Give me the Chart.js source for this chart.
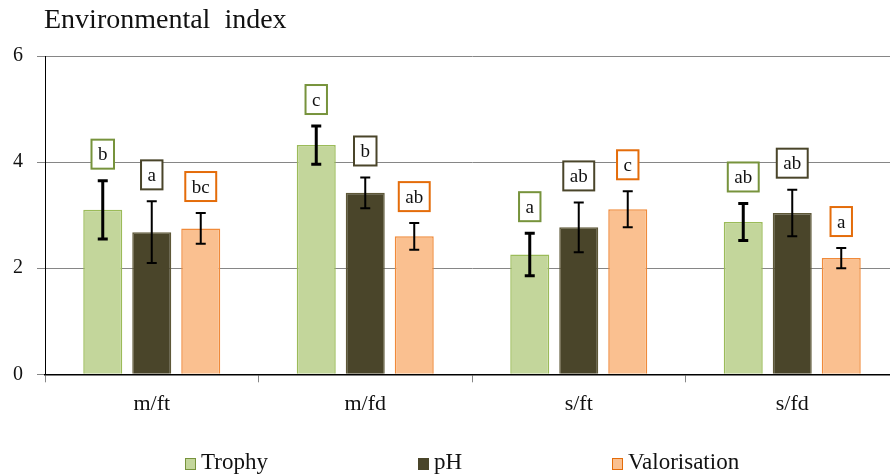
<!DOCTYPE html>
<html>
<head>
<meta charset="utf-8">
<script src="https://cdn.jsdelivr.net/npm/chart.js@4.4.1/dist/chart.umd.min.js"></script>
<style>
  html, body { margin: 0; padding: 0; background: #fff; overflow: hidden; }
  .wrap { position: relative; width: 890px; height: 475px; overflow: hidden; font-family: "Liberation Serif", "Times New Roman", serif; }
  .box { position: absolute; left: 0; top: 0; width: 900px; height: 475px; }
  .title { position: absolute; left: 44px; top: 3px; font-size: 28px; color: #111; white-space: pre; }
  .legend-item { position: absolute; top: 448px; font-size: 23px; line-height: 27px; color: #111; display: flex; align-items: center; white-space: nowrap; }
  .legend-item span.sw { display: inline-block; width: 9px; height: 10px; border: 1.5px solid; margin-right: 5px; margin-top: 4px; }
</style>
</head>
<body>
<div class="wrap">
  <div class="box"><canvas id="chart" width="900" height="475"></canvas></div>
  <div class="title">Environmental  index</div>
  <div id="legend"></div>
</div>
<script>
// values
const categories = ['m/ft', 'm/fd', 's/ft', 's/fd'];
const seriesNames = ['Trophy', 'pH', 'Valorisation'];

const trophy = [3.10, 4.32, 2.26, 2.87];
const trophyErr = [0.55, 0.36, 0.40, 0.35];
const trophyLetters = ['b', 'c', 'a', 'ab'];

const ph = [2.68, 3.42, 2.77, 3.04];
const phErr = [0.58, 0.29, 0.47, 0.44];
const phLetters = ['a', 'b', 'ab', 'ab'];

const valor = [2.75, 2.60, 3.11, 2.19];
const valorErr = [0.29, 0.25, 0.34, 0.19];
const valorLetters = ['bc', 'ab', 'c', 'a'];

const yTicks = [0, 2, 4, 6];

const fills = ['#C3D69B', '#4A452A', '#FAC090'];
const borders = ['#9BBB59', '#5E5838', '#F08A3A'];
const letterBorders = ['#77933C', '#4A452A', '#E46C0A'];
const errWidths = [3, 2, 2];
const legendLeft = [185, 418, 612];

const errors = [trophyErr, phErr, valorErr];
const letters = [trophyLetters, phLetters, valorLetters];

const serif = '"Liberation Serif", "Times New Roman", serif';

// error bars + significance letters
const errorBarPlugin = {
    id: 'errorBars',
    afterDatasetsDraw(chart) {
        const ctx = chart.ctx;
        const y = chart.scales.y;
        chart.data.datasets.forEach((ds, i) => {
            const meta = chart.getDatasetMeta(i);
            meta.data.forEach((bar, j) => {
                const v = ds.data[j];
                const e = errors[i][j];
                const top = y.getPixelForValue(v + e);
                const bot = y.getPixelForValue(v - e);
                const x = bar.x;
                ctx.save();
                ctx.strokeStyle = '#000';
                ctx.lineWidth = errWidths[i];
                ctx.beginPath();
                ctx.moveTo(x, top); ctx.lineTo(x, bot);
                ctx.moveTo(x - 5, top); ctx.lineTo(x + 5, top);
                ctx.moveTo(x - 5, bot); ctx.lineTo(x + 5, bot);
                ctx.stroke();

                // letter box
                const txt = letters[i][j];
                ctx.font = '19px ' + serif;
                const w = ctx.measureText(txt).width + 13;
                const h = 29;
                const bBottom = top - 12;
                ctx.fillStyle = '#fff';
                ctx.fillRect(x - w / 2, bBottom - h, w, h);
                ctx.strokeStyle = letterBorders[i];
                ctx.lineWidth = 2;
                ctx.strokeRect(x - w / 2, bBottom - h, w, h);
                ctx.fillStyle = '#111';
                ctx.textAlign = 'center';
                ctx.textBaseline = 'middle';
                ctx.fillText(txt, x, bBottom - h / 2 + 1);
                ctx.restore();
            });
        });
    }
};

const ctx = document.getElementById('chart').getContext('2d');
const chart = new Chart(ctx, {
    type: 'bar',
    data: {
        labels: categories,
        datasets: [trophy, ph, valor].map((d, i) => ({
            label: seriesNames[i],
            data: d,
            backgroundColor: fills[i],
            borderColor: borders[i],
            borderWidth: 1.5,
            borderSkipped: 'bottom',
            categoryPercentage: 0.6885,
            barPercentage: 0.796
        }))
    },
    options: {
        responsive: false,
        animation: false,
        layout: { padding: { top: 56, right: 1, left: 0, bottom: 0 } },
        scales: {
            x: {
                grid: {
                    offset: true,
                    drawOnChartArea: false,
                    drawTicks: true,
                    tickLength: 8,
                    color: '#868686'
                },
                border: { color: '#000', width: 1.5 },
                ticks: {
                    color: '#111',
                    font: { family: serif, size: 22 },
                    padding: 9
                },
                afterFit(scale) { scale.height = 100.7; }
            },
            y: {
                min: 0,
                max: 6,
                afterBuildTicks(scale) { scale.ticks = yTicks.map(v => ({ value: v })); },
                grid: {
                    color: '#868686',
                    tickLength: 8,
                    lineWidth: 1
                },
                border: { color: '#000', width: 1 },
                ticks: {
                    color: '#111',
                    font: { family: serif, size: 20 },
                    padding: 14
                },
                afterFit(scale) { scale.width = 45; }
            }
        },
        plugins: {
            legend: { display: false },
            tooltip: { enabled: false }
        }
    },
    plugins: [errorBarPlugin]
});

// legend in html, placed like the original
const legendEl = document.getElementById('legend');
seriesNames.forEach((name, i) => {
    const item = document.createElement('div');
    item.className = 'legend-item';
    item.style.left = legendLeft[i] + 'px';
    const sw = document.createElement('span');
    sw.className = 'sw';
    sw.style.background = fills[i];
    sw.style.borderColor = letterBorders[i];
    item.appendChild(sw);
    item.appendChild(document.createTextNode(name));
    legendEl.appendChild(item);
});
</script>
</body>
</html>
